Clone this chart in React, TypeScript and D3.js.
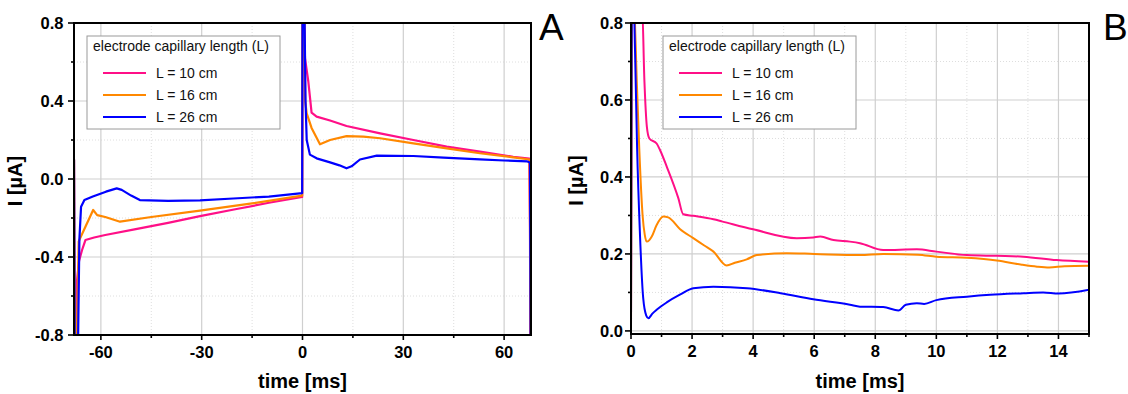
import React from 'react';
import * as d3 from 'd3';

type Pt = [number, number];

const seriesNames = ['L = 10 cm', 'L = 16 cm', 'L = 26 cm'];
const legendTitle = 'electrode capillary length (L)';
const colors = ['#ff0f87', '#ff8800', '#0000ff'];

const xTicksA = [-60, -30, 0, 30, 60];
const xMinorA = [-45, -15, 15, 45];
const yTicksA = [-0.8, -0.4, 0, 0.4, 0.8];
const yMinorA = [-0.6, -0.2, 0.2, 0.6];
const xTicksB = [0, 2, 4, 6, 8, 10, 12, 14];
const xMinorB = [1, 3, 5, 7, 9, 11, 13, 15];
const yTicksB = [0, 0.2, 0.4, 0.6, 0.8];
const yMinorB = [0.1, 0.3, 0.5, 0.7];

// Panel A: time [ms], current [µA]
const pinkA: Pt[] = [
  [-68, 0.1], [-67.8, -0.85], [-67.3, -0.85], [-67.1, -0.52], [-66.5, -0.42], [-65.6, -0.364],
  [-64.6, -0.313], [-62, -0.3], [-58.7, -0.287], [-50, -0.258], [-40, -0.225], [-30.5, -0.19],
  [-20, -0.155], [-10, -0.122], [-0.1, -0.092], [0, 0.85], [0.5, 0.85], [0.74, 0.62],
  [1.73, 0.5], [2.7, 0.34], [4.2, 0.32], [8.2, 0.3], [13.1, 0.272], [23.1, 0.234],
  [33, 0.2], [42.9, 0.166], [52.8, 0.14], [62.7, 0.114], [67.5, 0.105], [67.7, -0.25], [67.8, -0.85],
];
const orangeA: Pt[] = [
  [-68, 0.1], [-67.8, -0.85], [-67.2, -0.85], [-66.6, -0.32], [-64.6, -0.245], [-62.3, -0.159],
  [-61.1, -0.185], [-58.7, -0.195], [-54.3, -0.219], [-45, -0.195], [-30.5, -0.162], [-15, -0.125],
  [-0.1, -0.085], [0, 0.85], [0.5, 0.85], [0.8, 0.4], [1.25, 0.337], [2.7, 0.262], [5.2, 0.178],
  [8.2, 0.2], [13.1, 0.22], [18.1, 0.217], [23.1, 0.209], [33, 0.183], [42.9, 0.157],
  [52.8, 0.132], [62.7, 0.111], [67.6, 0.1], [67.9, -0.85],
];
const blueA: Pt[] = [
  [-68, 0.1], [-67.8, -0.85], [-66.8, -0.85], [-66.4, -0.31], [-65.9, -0.142], [-64.9, -0.108],
  [-62.4, -0.09], [-58.5, -0.065], [-55.3, -0.048], [-53.8, -0.056], [-51, -0.085], [-48.4, -0.108],
  [-40, -0.112], [-30.5, -0.11], [-20.6, -0.1], [-10, -0.09], [-0.1, -0.072], [0, 0.85],
  [0.6, 0.85], [0.9, 0.4], [1.25, 0.2], [2.2, 0.125], [4.2, 0.106], [8.2, 0.085], [11, 0.07],
  [13.1, 0.055], [14.6, 0.065], [17.1, 0.1], [22.1, 0.12], [33, 0.118], [42, 0.11],
  [52.8, 0.101], [60, 0.095], [66.9, 0.09], [67.7, 0.085], [67.9, -0.85],
];

// Panel B: zoom on first 15 ms
const pinkB: Pt[] = [
  [0, 0], [0.03, 0.85], [0.36, 0.85], [0.44, 0.648], [0.52, 0.53], [0.6, 0.5], [0.84, 0.487],
  [0.95, 0.47], [1.17, 0.427], [1.55, 0.345], [1.71, 0.303], [2.04, 0.299], [2.7, 0.29],
  [3.0, 0.284], [4.0, 0.264], [5.43, 0.241], [5.97, 0.243], [6.2, 0.245], [6.63, 0.236],
  [7.17, 0.232], [7.5, 0.228], [8.26, 0.21], [9.36, 0.212], [10.0, 0.206], [11.0, 0.197],
  [11.98, 0.195], [12.85, 0.193], [13.94, 0.184], [15, 0.18],
];
const orangeB: Pt[] = [
  [0, 0], [0.04, 0.85], [0.1, 0.85], [0.15, 0.75], [0.19, 0.647], [0.27, 0.475], [0.38, 0.3],
  [0.45, 0.25], [0.51, 0.232], [0.6, 0.236], [0.68, 0.245], [0.84, 0.275], [1.06, 0.297],
  [1.22, 0.295], [1.6, 0.265], [2.04, 0.241], [2.4, 0.222], [2.7, 0.206], [3.13, 0.17],
  [3.4, 0.177], [3.79, 0.186], [4.12, 0.197], [5.1, 0.202], [6, 0.2], [7.5, 0.197],
  [8.26, 0.2], [9.4, 0.198], [10, 0.193], [11, 0.19], [11.98, 0.183], [12.8, 0.172],
  [13.3, 0.167], [13.7, 0.165], [14.2, 0.168], [15, 0.169],
];
const blueB: Pt[] = [
  [0, 0], [0.03, 0.85], [0.09, 0.85], [0.13, 0.734], [0.2, 0.475], [0.29, 0.258], [0.4, 0.085],
  [0.5, 0.04], [0.57, 0.033], [0.7, 0.045], [0.84, 0.055], [1.17, 0.074], [1.6, 0.094],
  [2.04, 0.111], [2.7, 0.115], [3.8, 0.111], [4.9, 0.098], [5.97, 0.082], [7.17, 0.068],
  [7.5, 0.063], [8.26, 0.062], [8.76, 0.053], [9.0, 0.068], [9.36, 0.072], [9.6, 0.07],
  [10, 0.08], [11, 0.089], [11.76, 0.094], [12.85, 0.098], [13.5, 0.1], [14, 0.097], [15, 0.107],
];

const FONT = 'Arial, "Liberation Sans", sans-serif';

type PanelProps = {
  id: string;
  letter: string;
  left: number; right: number; top: number; bottom: number;
  xDomain: [number, number]; yDomain: [number, number];
  xTicks: number[]; xMinor: number[]; yTicks: number[]; yMinor: number[];
  yFmt: (v: number) => string;
  series: Pt[][];
  smooth: boolean;
  lineWidth: number;
  legendX: number;
  yLabelX: number;
  yTickGap: number;
  letterX: number;
};

function Panel(p: PanelProps) {
  const xs = d3.scaleLinear().domain(p.xDomain).range([p.left, p.right]);
  const ys = d3.scaleLinear().domain(p.yDomain).range([p.bottom, p.top]);
  const line = d3.line<Pt>().x(d => xs(d[0])).y(d => ys(d[1]));
  if (p.smooth) line.curve(d3.curveMonotoneX);
  const inX = (v: number) => xs(v) > p.left + 1 && xs(v) < p.right - 1;
  const inY = (v: number) => ys(v) > p.top + 1 && ys(v) < p.bottom - 1;
  const cx = (p.left + p.right) / 2;
  const cy = (p.top + p.bottom) / 2;
  const lx = p.legendX;
  return (
    <g>
      <defs>
        <clipPath id={p.id}>
          <rect x={p.left} y={p.top} width={p.right - p.left} height={p.bottom - p.top} />
        </clipPath>
      </defs>
      {/* minor grid */}
      {p.xMinor.filter(inX).map(v => (
        <line key={'xm' + v} x1={xs(v)} x2={xs(v)} y1={p.top} y2={p.bottom} stroke="#dedede" strokeWidth={1} strokeDasharray="1,2" />
      ))}
      {p.yMinor.filter(inY).map(v => (
        <line key={'ym' + v} y1={ys(v)} y2={ys(v)} x1={p.left} x2={p.right} stroke="#dedede" strokeWidth={1} strokeDasharray="1,2" />
      ))}
      {/* major grid */}
      {p.xTicks.filter(inX).map(v => (
        <line key={'xg' + v} x1={xs(v)} x2={xs(v)} y1={p.top} y2={p.bottom} stroke="#cfcfcf" strokeWidth={1.2} />
      ))}
      {p.yTicks.filter(inY).map(v => (
        <line key={'yg' + v} y1={ys(v)} y2={ys(v)} x1={p.left} x2={p.right} stroke="#cfcfcf" strokeWidth={1.2} />
      ))}
      {/* data */}
      <g clipPath={`url(#${p.id})`}>
        {p.series.map((s, i) => (
          <path key={i} d={line(s) || ''} fill="none" stroke={colors[i]} strokeWidth={p.lineWidth} strokeLinejoin="round" />
        ))}
      </g>
      {/* frame */}
      <rect x={p.left} y={p.top} width={p.right - p.left} height={p.bottom - p.top} fill="none" stroke="#000" strokeWidth={2} />
      {/* ticks */}
      {p.xTicks.map(v => (
        <line key={'xt' + v} x1={xs(v)} x2={xs(v)} y1={p.bottom} y2={p.bottom + 5} stroke="#000" strokeWidth={1.6} />
      ))}
      {p.xMinor.map(v => (
        <line key={'xmt' + v} x1={xs(v)} x2={xs(v)} y1={p.bottom} y2={p.bottom + 3} stroke="#000" strokeWidth={1.6} />
      ))}
      {p.yTicks.map(v => (
        <line key={'yt' + v} y1={ys(v)} y2={ys(v)} x1={p.left - 6} x2={p.left} stroke="#000" strokeWidth={1.6} />
      ))}
      {p.yMinor.map(v => (
        <line key={'ymt' + v} y1={ys(v)} y2={ys(v)} x1={p.left - 3} x2={p.left} stroke="#000" strokeWidth={1.6} />
      ))}
      {/* tick labels */}
      {p.xTicks.map(v => (
        <text key={'xl' + v} x={xs(v)} y={p.bottom + 23.3} textAnchor="middle" fontFamily={FONT} fontWeight="bold" fontSize={16.5} fill="#000">
          {String(v)}
        </text>
      ))}
      {p.yTicks.map(v => (
        <text key={'yl' + v} x={p.left - p.yTickGap} y={ys(v) + 6.2} textAnchor="end" fontFamily={FONT} fontWeight="bold" fontSize={16.5} fill="#000">
          {p.yFmt(v)}
        </text>
      ))}
      {/* axis titles */}
      <text x={cx} y={388} textAnchor="middle" fontFamily={FONT} fontWeight="bold" fontSize={20} fill="#000">time [ms]</text>
      <text transform={`translate(${p.yLabelX},${cy + 2}) rotate(-90)`} textAnchor="middle" fontFamily={FONT} fontWeight="bold" fontSize={20} fill="#000">I [µA]</text>
      {/* legend */}
      <rect x={lx} y={36} width={193} height={93} fill="#fff" stroke="#9a9a9a" strokeWidth={1} />
      <text x={lx + 6} y={51} fontFamily={FONT} fontSize={14} fill="#111">{legendTitle}</text>
      {seriesNames.map((n, i) => (
        <g key={n}>
          <line x1={lx + 16} x2={lx + 59} y1={73 + i * 22} y2={73 + i * 22} stroke={colors[i]} strokeWidth={2} />
          <text x={lx + 69} y={78 + i * 22} fontFamily={FONT} fontSize={14} fill="#111">{n}</text>
        </g>
      ))}
      {/* panel letter */}
      <text x={p.letterX} y={40} fontFamily={FONT} fontSize={37} fill="#000">{p.letter}</text>
    </g>
  );
}

export default function App() {
  return (
    <svg width={1128} height={394} style={{ position: 'absolute', left: 0, top: 0, background: '#fff' }}>
      <rect x={0} y={0} width={1128} height={394} fill="#fff" />
      <Panel
        id="clipA" letter="A"
        left={74} right={531} top={23} bottom={335}
        xDomain={[-68, 68]} yDomain={[-0.8, 0.8]}
        xTicks={xTicksA} xMinor={xMinorA} yTicks={yTicksA} yMinor={yMinorA}
        yFmt={v => v.toFixed(1)}
        series={[pinkA, orangeA, blueA]}
        smooth={false}
        lineWidth={2.2}
        legendX={87}
        yLabelX={22}
        yTickGap={10.5}
        letterX={539}
      />
      <Panel
        id="clipB" letter="B"
        left={631} right={1089} top={23} bottom={334}
        xDomain={[0, 15]} yDomain={[-0.008, 0.8]}
        xTicks={xTicksB} xMinor={xMinorB} yTicks={yTicksB} yMinor={yMinorB}
        yFmt={v => v.toFixed(1)}
        series={[pinkB, orangeB, blueB]}
        smooth={true}
        lineWidth={2}
        legendX={663}
        yLabelX={583}
        yTickGap={8}
        letterX={1103}
      />
    </svg>
  );
}
